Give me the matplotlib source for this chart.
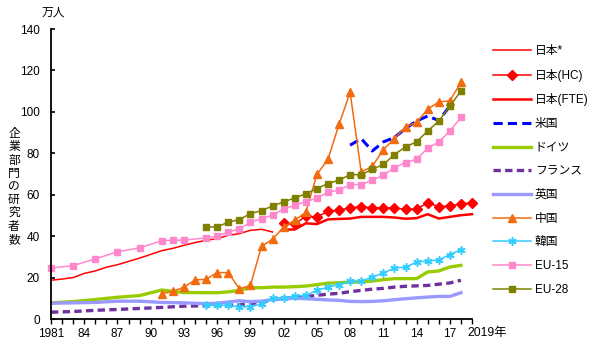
import matplotlib
matplotlib.use("Agg")
import matplotlib.pyplot as plt

plt.rcParams['font.family'] = ['Liberation Sans', 'Noto Sans CJK JP', 'DejaVu Sans']

# ---- data (万人) ----
jp_star_years = list(range(1981, 2002))
jp_star = [18.7, 19.3, 20.0, 22.0, 23.2, 25.0, 26.2, 27.8, 29.4, 31.2, 33.0,
           34.1, 35.6, 36.9, 38.0, 38.8, 40.4, 41.2, 42.8, 43.3, 42.0]

jp_years = list(range(2002, 2020))
jp_hc = [46.4, 45.8, 49.6, 49.3, 51.9, 52.6, 53.7, 54.2, 53.7, 53.7, 53.7,
         52.9, 53.1, 56.1, 54.2, 54.6, 55.6, 56.1]
jp_fte = [43.2, 43.2, 46.2, 45.8, 48.1, 48.3, 48.5, 49.3, 49.3, 49.3, 49.0,
          48.4, 48.7, 50.6, 48.5, 49.3, 50.1, 50.6]

us_years = list(range(2008, 2018))
us = [83.9, 87.1, 81.1, 85.5, 87.6, 92.0, 95.6, 98.0, 95.8, 102.8]

long_years = [1981, 1983, 1985, 1987, 1989, 1991, 1992, 1993, 1995, 1996, 1997,
              1998, 1999, 2000, 2001, 2002, 2003, 2004, 2005, 2006, 2007, 2008,
              2009, 2010, 2011, 2012, 2013, 2014, 2015, 2016, 2017, 2018]
de = [7.8, 8.4, 9.4, 10.5, 11.3, 14.0, 13.3, 12.8, 12.7, 12.7, 13.1,
      13.8, 15.1, 15.1, 15.4, 15.4, 15.6, 15.9, 16.6, 17.3, 17.5, 17.8,
      18.0, 18.3, 19.0, 19.5, 19.5, 19.5, 22.7, 23.2, 25.1, 25.9]
fr = [3.3, 3.6, 4.2, 4.6, 5.1, 5.6, 5.9, 6.2, 6.4, 6.5, 6.6,
      6.9, 7.4, 8.2, 9.2, 10.0, 10.4, 10.8, 11.4, 12.0, 12.4, 13.2,
      13.8, 14.4, 14.8, 15.4, 15.8, 16.0, 16.2, 16.8, 17.4, 18.7]
uk = [7.6, 7.8, 8.0, 8.6, 8.6, 8.0, 7.9, 7.8, 7.4, 7.6, 8.2,
      8.8, 8.4, 8.6, 9.4, 9.8, 10.0, 9.8, 9.5, 9.2, 9.0, 8.5,
      8.4, 8.5, 8.8, 9.3, 9.8, 10.2, 10.6, 10.9, 10.9, 12.7]

cn_years = list(range(1991, 2019))
cn = [12.2, 13.3, 15.4, 18.8, 19.2, 22.4, 22.4, 14.6, 16.2, 35.1, 38.5,
      44.4, 47.7, 51.5, 69.8, 77.1, 94.0, 109.4, 71.0, 73.7, 81.8, 87.1,
      92.8, 94.9, 101.3, 104.8, 105.3, 114.2]

kr_years = list(range(1995, 2019))
kr = [6.6, 6.6, 6.6, 5.8, 6.0, 7.1, 10.1, 10.1, 11.1, 11.4, 13.8, 15.4,
      16.6, 18.2, 18.3, 20.3, 22.2, 24.6, 25.0, 27.5, 28.0, 28.5, 31.1, 33.5]

eu15_years = [1981, 1983, 1985, 1987, 1989, 1991, 1992, 1993, 1995, 1996, 1997,
              1998, 1999, 2000, 2001, 2002, 2003, 2004, 2005, 2006, 2007, 2008,
              2009, 2010, 2011, 2012, 2013, 2014, 2015, 2016, 2017, 2018]
eu15 = [24.6, 25.8, 29.0, 32.5, 34.3, 37.8, 38.0, 38.1, 39.1, 40.0, 42.0,
        43.5, 46.7, 48.5, 50.1, 53.2, 54.9, 56.6, 58.4, 61.2, 62.2, 64.9,
        64.9, 67.0, 69.4, 73.1, 75.5, 77.1, 82.5, 85.5, 90.7, 97.3]

eu28_years = list(range(1995, 2019))
eu28 = [44.4, 44.4, 46.8, 48.0, 50.9, 52.3, 54.6, 56.5, 58.5, 60.4, 63.0, 65.4,
        67.0, 69.7, 69.7, 72.3, 74.6, 79.4, 83.1, 85.5, 90.8, 95.5, 102.8, 110.0]

tick_years = [1981, 1984, 1987, 1990, 1993, 1996, 1999, 2002, 2005, 2008, 2011, 2014, 2017]
tick_labels = ['1981', '84', '87', '90', '93', '96', '99', '02', '05', '08', '11', '14', '17']

# ---- figure ----
fig = plt.figure(figsize=(6.0, 3.53), dpi=100)
ax = fig.add_axes([51/600, 1 - 319/353, (472 - 51)/600, (319 - 29)/353])

ax.plot(jp_star_years, jp_star, color='#FF0000', lw=1.1, label='日本*')
ax.plot(jp_years, jp_hc, color='#FF0000', lw=1.1, marker='D', ms=5,
        label='日本(HC)', clip_on=False)
ax.plot(jp_years, jp_fte, color='#FF0000', lw=1.8, label='日本(FTE)', clip_on=False)
ax.plot(us_years, us, color='#0000FF', lw=2.2, dashes=(3, 1.7), label='米国')
ax.plot(long_years, de, color='#99CC00', lw=2.4, label='ドイツ')
ax.plot(long_years, fr, color='#7030A0', lw=2.4, dashes=(2.2, 1.3), label='フランス')
ax.plot(long_years, uk, color='#9999FF', lw=2.4, label='英国')
ax.plot(cn_years, cn, color='#F26B0F', lw=1.1, marker='^', ms=5.5, label='中国')
ax.plot(kr_years, kr, color='#33CCFF', lw=1.1, marker=(6, 2, 0), ms=6, mew=1.1,
        label='韓国')
ax.plot(eu15_years, eu15, color='#FF88CC', lw=1.1, marker='s', ms=4.6,
        label='EU-15', clip_on=False)
ax.plot(eu28_years, eu28, color='#808000', lw=1.1, marker='s', ms=4.6, label='EU-28')

ax.set_xlim(1981, 2019)
ax.set_ylim(0, 140)
ax.set_yticks(range(0, 141, 20))
ax.set_xticks(range(1981, 2020), minor=False)
ax.set_xticklabels([tick_labels[tick_years.index(y)] if y in tick_years else ''
                    for y in range(1981, 2020)])
for s in ['top', 'right']:
    ax.spines[s].set_visible(False)
for s in ['left', 'bottom']:
    ax.spines[s].set_linewidth(1.3)
ax.tick_params(axis='y', direction='in', length=3, width=1.2, labelsize=8.5, pad=8)
ax.tick_params(axis='x', direction='out', length=3.5, width=1.0, labelsize=8.5, pad=3)

ax.text(2018.6, -3.9, '2019年', ha='left', va='top', fontsize=8.8,
        transform=ax.transData, clip_on=False)

fig.text(53/600, 1 - 13/353, '万人', ha='center', va='center', fontsize=8.5)
fig.text(14/600, 1 - 187/353, '\n'.join('企業部門の研究者数'), ha='center',
         va='center', fontsize=8.5, linespacing=1.13)

leg = ax.legend(loc='upper left', bbox_to_anchor=(493/600, 1 - 45/353),
                bbox_transform=fig.transFigure, frameon=False, fontsize=8.5,
                handlelength=3.2, handletextpad=0.35, labelspacing=0.99,
                borderaxespad=0, borderpad=0)

fig.savefig('out.png', dpi=100)
